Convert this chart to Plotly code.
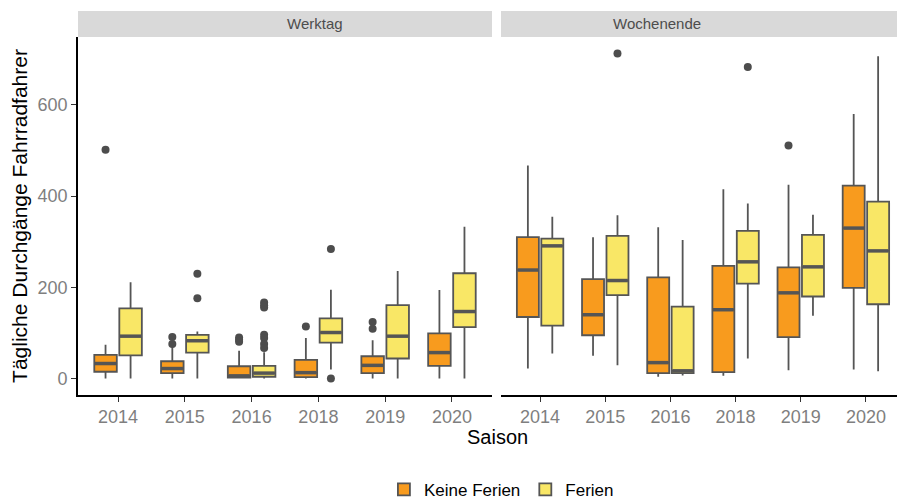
import plotly.graph_objects as go

seasons = ["2014", "2015", "2016", "2018", "2019", "2020"]
panels = ["Werktag", "Wochenende"]
groups = ["Keine Ferien", "Ferien"]

# Werktag, Keine Ferien
wt_kf_low = [0, 0, 0, 0, 0, 0]
wt_kf_q1 = [15, 12, 2, 3, 12, 28]
wt_kf_med = [33, 22, 6, 13, 29, 57]
wt_kf_q3 = [52, 38, 27, 41, 49, 99]
wt_kf_high = [74, 72, 61, 89, 84, 194]
wt_kf_out = [[502], [91, 76], [90, 85, 81], [114], [124, 109], []]

# Werktag, Ferien
wt_f_low = [0, 0, 0, 20, 0, 0]
wt_f_q1 = [51, 57, 4, 79, 44, 113]
wt_f_med = [93, 83, 12, 101, 93, 147]
wt_f_q3 = [154, 96, 28, 132, 161, 231]
wt_f_high = [211, 103, 58, 195, 236, 333]
wt_f_out = [[], [230, 176], [167, 161, 156, 96, 89, 76, 67], [284, 0], [], []]

# Wochenende, Keine Ferien
we_kf_low = [22, 50, 4, 6, 18, 20]
we_kf_q1 = [135, 95, 12, 14, 91, 199]
we_kf_med = [238, 140, 35, 151, 188, 330]
we_kf_q3 = [310, 218, 222, 247, 244, 423]
we_kf_high = [467, 310, 332, 415, 425, 580]
we_kf_out = [[], [], [], [], [511], []]

# Wochenende, Ferien
we_f_low = [55, 29, 7, 44, 138, 16]
we_f_q1 = [116, 183, 12, 208, 180, 163]
we_f_med = [291, 215, 17, 256, 245, 280]
we_f_q3 = [307, 313, 158, 324, 315, 388]
we_f_high = [355, 358, 304, 384, 359, 707]
we_f_out = [[], [713], [], [683], [], []]

colors = ["#F89B1E", "#F9E766"]
outline = "#555555"
dodge = [-0.1875, 0.1875]
bw = 0.3375

data = {
    ("Werktag", 0): (wt_kf_low, wt_kf_q1, wt_kf_med, wt_kf_q3, wt_kf_high, wt_kf_out),
    ("Werktag", 1): (wt_f_low, wt_f_q1, wt_f_med, wt_f_q3, wt_f_high, wt_f_out),
    ("Wochenende", 0): (we_kf_low, we_kf_q1, we_kf_med, we_kf_q3, we_kf_high, we_kf_out),
    ("Wochenende", 1): (we_f_low, we_f_q1, we_f_med, we_f_q3, we_f_high, we_f_out),
}

fig = go.Figure()
for pi, panel in enumerate(panels):
    xa = "x" if pi == 0 else "x2"
    for gi, grp in enumerate(groups):
        low, q1, med, q3, high, outs = data[(panel, gi)]
        xs = [i + dodge[gi] for i in range(len(seasons))]
        fig.add_trace(go.Box(
            x=xs, q1=q1, median=med, q3=q3, lowerfence=low, upperfence=high,
            width=bw, whiskerwidth=0, fillcolor=colors[gi],
            line=dict(color=outline, width=1.8), name=grp,
            legendgroup=grp, showlegend=(pi == 0), xaxis=xa, yaxis="y",
            hoverinfo="skip",
        ))
        # thick median line
        mx, my = [], []
        for x, m in zip(xs, med):
            mx += [x - bw / 2 + 0.01, x + bw / 2 - 0.01, None]
            my += [m, m, None]
        fig.add_trace(go.Scatter(x=mx, y=my, mode="lines",
                                 line=dict(color=outline, width=3.5),
                                 showlegend=False, xaxis=xa, yaxis="y",
                                 hoverinfo="skip"))
        ox, oy = [], []
        for x, o in zip(xs, outs):
            ox += [x] * len(o)
            oy += o
        fig.add_trace(go.Scatter(x=ox, y=oy, mode="markers",
                                 marker=dict(color="#4D4D4D", size=8),
                                 showlegend=False, xaxis=xa, yaxis="y",
                                 hoverinfo="skip"))

# page body has an 8px default margin, so the figure is sized to compensate
W, H = 897, 494
ml, mr, mt, mb = 70, 0, 29, 107
pw = W - ml - mr
ph = H - mt - mb
d1 = [0, 414 / pw]
d2 = [423 / pw, 1]

tickfont = dict(family="Liberation Sans, Arial", size=18, color="#7F7F7F")
xcommon = dict(range=[-0.6, 5.6], tickmode="array",
               tickvals=list(range(len(seasons))), ticktext=seasons,
               showline=True, linecolor="black", linewidth=1.6,
               ticks="outside", ticklen=5, tickcolor="#333333", tickwidth=1.2,
               showgrid=False, zeroline=False, tickfont=tickfont,
               automargin=False)

fig.update_layout(
    width=W, height=H,
    margin=dict(l=ml, r=mr, t=mt, b=mb, autoexpand=False),
    plot_bgcolor="white", paper_bgcolor="white",
    font=dict(family="Liberation Sans, Arial", color="black"),
    xaxis=dict(domain=d1, anchor="y", **xcommon),
    xaxis2=dict(domain=d2, anchor="y", **xcommon),
    yaxis=dict(range=[-36, 749], tickvals=[0, 200, 400, 600],
               showline=True, linecolor="black", linewidth=1.6,
               ticks="outside", ticklen=5, tickcolor="#333333", tickwidth=1.2,
               showgrid=False, zeroline=False, tickfont=tickfont,
               automargin=False,
               title=dict(text="Tägliche Durchgänge Fahrradfahrer",
                          font=dict(size=21, color="black"), standoff=6)),
    legend=dict(orientation="h", x=0.512, xanchor="center", y=-0.265,
                yanchor="middle", font=dict(size=17, color="black"),
                itemwidth=30),
    showlegend=True,
)

# x-axis title
fig.add_annotation(text="Saison", xref="paper", yref="paper",
                   x=0.507, y=-0.118,
                   showarrow=False, yanchor="middle",
                   font=dict(size=20, color="black"))

# strips
sh = 26 / ph
for dom, label in zip([d1, d2], panels):
    fig.add_shape(type="rect", xref="paper", yref="paper",
                  x0=dom[0], x1=dom[1], y0=1, y1=1 + sh,
                  fillcolor="#D9D9D9", line=dict(width=0), layer="below")
    fig.add_annotation(text=label, xref="paper", yref="paper",
                       x=(dom[0] + dom[1]) / 2, y=1 + sh / 2,
                       showarrow=False, yanchor="middle",
                       font=dict(size=15, color="#4D4D4D"))

fig.write_html("out.html")
